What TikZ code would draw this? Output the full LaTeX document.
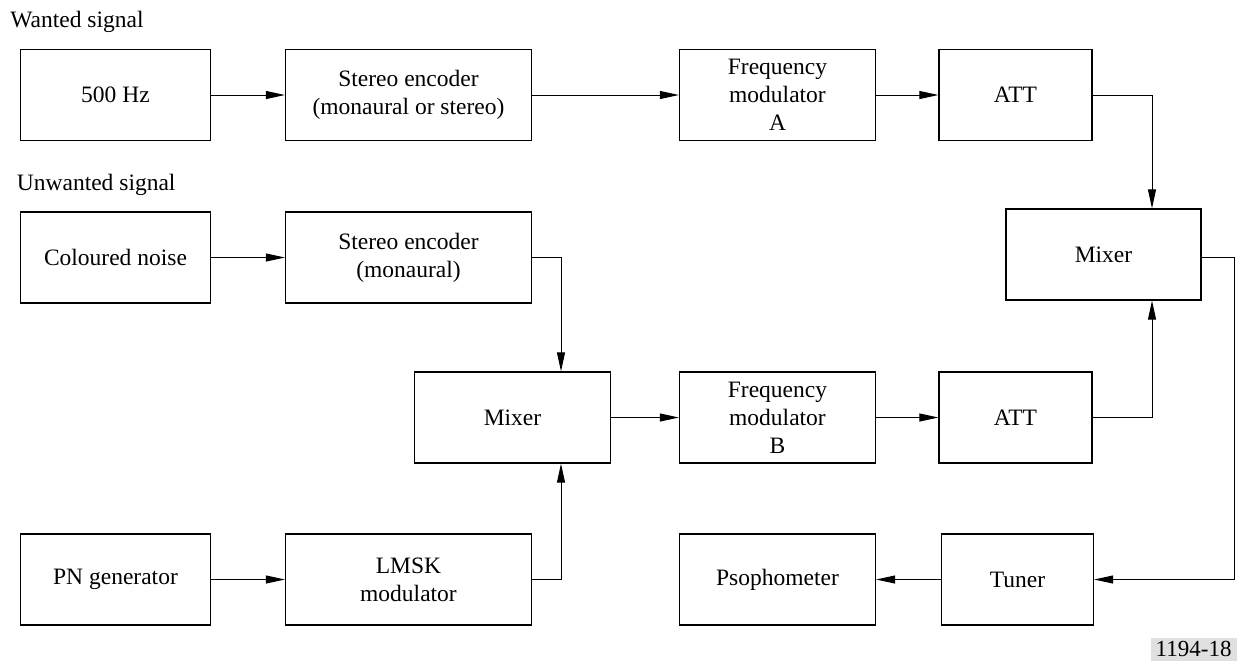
\documentclass[tikz,border=0pt]{standalone}
\usepackage{fontspec}
\setmainfont{Liberation Serif}
\usetikzlibrary{arrows.meta,calc}
\begin{document}
\begin{tikzpicture}[x=0.5pt,y=-0.5pt,
  txt/.style={font=\fontsize{11.75}{14}\selectfont},
  box/.style={draw, line width=0.65pt, inner sep=0pt, align=center, txt,
              minimum height=45.5pt},
  wA/.style={minimum width=95pt},
  wB/.style={minimum width=123pt},
  wC/.style={minimum width=98pt},
  wD/.style={minimum width=76.5pt},
  arr/.style={-{Triangle[length=9.5pt,width=4pt]}, line width=0.5pt},
  ln/.style={line width=0.5pt}]
\useasboundingbox (0,0) rectangle (1238,661);

% titles
\node[txt, inner sep=0pt, anchor=base west] (tw) at (10,27) {Wanted signal};
\node[txt, inner sep=0pt, anchor=base west] (tu) at (16.5,190) {Unwanted signal};

% row 1
\node[box,wA] (hz)   at (115.5,95)   {500 Hz};
\node[box,wB] (seA)  at (408.5,95)   {Stereo encoder\\(monaural or stereo)};
\node[box,wC] (fmA)  at (777.5,95)   {Frequency\\modulator\\A};
\node[box,wD] (attA) at (1015.5,95)  {ATT};
% right mixer
\node[box,minimum width=97.5pt] (mixR) at (1103.5,254.5) {Mixer};
% row 2
\node[box,wA] (cn)   at (115.5,257.5) {Coloured noise};
\node[box,wB] (seB)  at (408.5,257.5) {Stereo encoder\\(monaural)};
% row 3
\node[box,wC] (mixM) at (512.5,417.5) {Mixer};
\node[box,wC] (fmB)  at (777.5,417.5) {Frequency\\modulator\\B};
\node[box,wD] (attB) at (1015.5,417.5) {ATT};
% row 4
\node[box,wA] (pn)   at (115.5,579.5) {PN generator};
\node[box,wB] (lmsk) at (408.5,579.5) {LMSK\\modulator};
\node[box,wC] (pso)  at (777.5,579.5) {Psophometer};
\node[box,minimum width=76pt] (tun)  at (1017.5,579.5) {Tuner};

% junction columns
\coordinate (jR) at (1152,0);
\coordinate (jM) at (561,0);
\coordinate (jE) at (1234.5,0);

% connectors
\draw[arr] (hz) -- (seA);
\draw[arr] (seA) -- (fmA);
\draw[arr] (fmA) -- (attA);
\draw[arr] (attA.east) -| (mixR.north -| jR);
\draw[arr] (cn) -- (seB);
\draw[arr] (seB.east) -| (mixM.north -| jM);
\draw[arr] (lmsk.east) -| (mixM.south -| jM);
\draw[arr] (pn) -- (lmsk);
\draw[arr] (mixM) -- (fmB);
\draw[arr] (fmB) -- (attB);
\draw[arr] (attB.east) -| (mixR.south -| jR);
\draw[arr] (mixR.east |- seB.east) -| (jE |- tun.east) -- (tun.east);
\draw[arr] (tun) -- (pso);

% figure number
\node[fill=black!12, inner sep=0pt, minimum width=43pt, minimum height=11.5pt,
      anchor=south east, font=\fontsize{11.5}{12}\selectfont] (fig) at (1237,661) {1194-18};
\end{tikzpicture}
\end{document}
